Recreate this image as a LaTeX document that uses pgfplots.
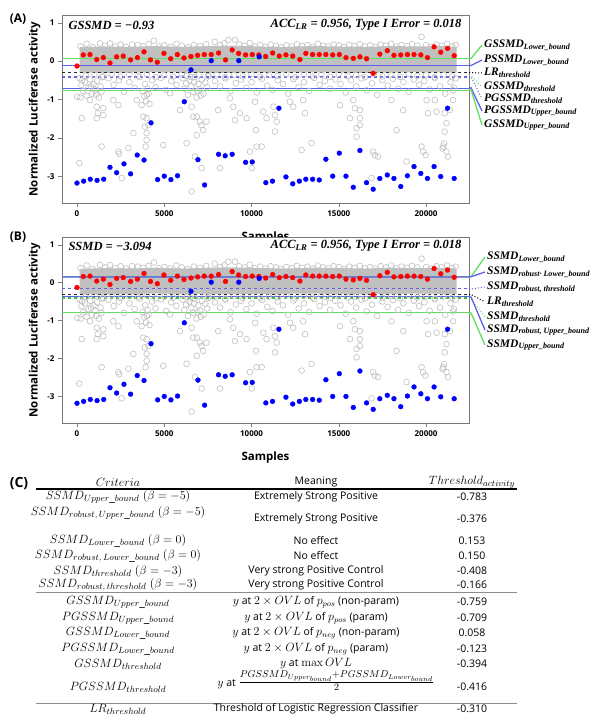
\documentclass[border=0pt]{standalone}
\usepackage{pgfplots}
\pgfplotsset{compat=1.18}
\usepackage{pgfplotstable}
\usepackage[no-math]{fontspec}
\setmainfont{Open Sans}
\newfontfamily\cambi{Liberation Serif}

\definecolor{lgreen}{RGB}{95,225,95}
\definecolor{lblue}{RGB}{95,95,235}
\definecolor{cgray}{RGB}{192,192,192}
\definecolor{framegray}{RGB}{120,120,120}
\definecolor{dgreen}{RGB}{60,190,60}
\definecolor{kdark}{RGB}{40,40,40}

\pgfplotstableread{
x y
200 0.38
550 0.45
900 0.36
1320 0.46
1600 0.40
1890 0.46
2200 0.38
2500 0.43
2800 0.37
3150 0.43
3490 0.42
3800 0.39
4100 0.44
4410 0.53
4700 0.38
5000 0.41
5350 0.37
5700 0.45
6000 0.40
6350 0.36
6700 0.42
7050 0.39
7400 0.44
7890 0.50
8200 0.41
8450 0.46
8670 0.55
9050 0.55
9300 0.43
9600 0.40
9900 0.47
10200 0.38
10500 0.42
10800 0.37
11100 0.43
11400 0.40
11700 0.36
12000 0.41
12300 0.38
12600 0.44
12900 0.39
13200 0.42
13500 0.37
13800 0.45
14100 0.40
14400 0.38
14700 0.43
15000 0.41
15300 0.36
15600 0.42
15900 0.39
16200 0.44
16500 0.38
16800 0.41
17100 0.37
17400 0.43
17700 0.40
18000 0.45
18300 0.38
18600 0.42
18900 0.39
19200 0.44
19500 0.40
19740 0.63
20000 0.41
20300 0.37
20600 0.43
20900 0.40
21200 0.45
21500 0.38
21700 0.42
150 -0.45
250 -0.62
350 -0.78
450 -0.55
550 -0.90
650 -0.70
750 -0.48
850 -0.85
950 -0.60
1050 -0.75
1150 -0.52
1250 -0.95
1350 -0.66
1450 -0.42
200 -0.95
500 -0.38
800 -0.66
1100 -0.88
1400 -0.80
300 -0.50
1800 -0.45
2100 -0.62
2400 -0.50
2700 -0.80
3000 -0.55
3300 -0.70
3600 -0.42
3900 -0.60
4100 -0.85
4300 -0.50
4500 -0.68
4800 -0.44
5100 -0.75
5400 -0.52
5700 -0.62
6050 -0.45
6150 -0.72
6250 -0.58
6350 -0.88
6450 -0.50
6550 -0.66
6650 -0.80
6750 -0.42
6850 -0.95
6950 -0.60
7050 -0.74
7150 -0.48
7250 -0.85
7350 -0.56
7450 -0.68
7550 -0.40
6300 -0.38
6700 -0.55
7100 -0.90
6900 -0.78
3750 -0.78
3850 -0.92
3950 -1.05
4050 -0.72
4150 -1.12
4000 -0.88
7900 -0.52
8200 -0.66
8500 -0.45
8800 -0.78
9100 -0.58
9400 -0.48
9700 -0.70
10000 -0.55
10300 -0.82
10600 -0.46
10900 -0.64
11200 -0.75
11500 -0.50
11800 -0.60
12100 -0.85
12400 -0.47
12700 -0.68
13000 -0.55
13300 -0.78
13600 -0.44
13900 -0.62
14200 -0.52
14500 -0.72
14800 -0.48
15100 -0.60
15400 -0.82
15700 -0.50
16000 -0.66
16300 -0.45
16600 -0.76
16900 -0.58
17200 -0.88
17500 -0.50
17800 -0.64
18100 -0.46
18400 -0.72
18700 -0.55
19000 -0.80
19300 -0.48
19600 -0.62
19900 -0.52
20200 -0.74
20500 -0.44
20800 -0.66
21100 -0.85
21400 -0.55
21600 -0.70
21700 -0.45
1000 -0.35
2000 -0.33
3000 -0.36
4000 -0.34
5000 -0.37
6000 -0.33
7000 -0.35
8000 -0.34
9000 -0.36
10000 -0.33
11000 -0.37
12000 -0.34
13000 -0.35
14000 -0.36
15000 -0.33
16000 -0.37
17000 -0.34
18000 -0.36
19000 -0.33
20000 -0.35
21000 -0.37
1500 -0.40
2500 -0.41
3500 -0.39
4500 -0.42
5500 -0.40
6500 -0.41
7500 -0.39
8500 -0.42
9500 -0.40
10500 -0.41
11500 -0.39
12500 -0.42
13500 -0.40
14500 -0.41
15500 -0.39
16500 -0.42
17500 -0.40
18500 -0.41
19500 -0.39
20500 -0.42
21500 -0.40
130 -2.66
270 -1.49
20 -0.93
745 -1.02
1130 -1.19
1190 -1.36
1510 -1.23
1130 -1.49
1510 -1.41
1410 -2.23
2080 -1.02
2370 -1.15
2370 -2.36
2420 -2.42
2560 -3.05
2940 -2.27
3230 -1.88
3420 -1.02
3700 -1.15
3800 -1.45
3890 -1.71
3990 -1.49
3990 -2.06
3930 -2.23
3990 -1.88
4090 -1.67
4940 -2.19
5330 -0.84
5900 -1.28
6570 -3.40
6280 -2.14
6570 -1.19
6660 -1.45
6760 -2.49
6860 -1.93
6860 -1.45
7040 -1.58
7130 -1.67
7230 -1.80
7140 -2.79
7420 -1.58
8090 -1.28
8190 -2.79
8760 -0.97
8950 -1.19
9050 -1.54
9340 -1.36
9720 -1.49
9910 -2.36
10010 -2.79
10200 -1.06
10250 -1.80
10290 -2.23
10580 -2.23
10670 -1.32
10860 -1.49
11250 -1.19
11340 -1.41
11440 -1.58
11340 -1.84
12200 -1.06
12390 -1.19
12960 -1.02
13060 -1.36
13440 -2.14
12870 -2.32
15060 -1.15
15640 -1.49
15830 -1.02
15920 -1.23
16210 -1.28
16210 -1.49
16020 -1.75
16210 -1.67
16020 -1.97
16970 -2.36
17060 -2.45
17250 -2.49
16880 -3.05
18020 -1.02
18310 -1.80
18690 -1.28
18880 -2.62
19740 -2.23
19830 -2.36
19970 -2.45
20030 -1.02
20120 -1.36
20500 -1.02
20600 -1.32
20980 -2.23
21030 -2.15
20950 -2.28
21070 -1.84
21170 -1.62
21070 -1.36
21360 -1.28
21170 -2.36
21260 -2.49
21550 -1.02
21550 -0.76
}\graydata

\pgfplotstableread{
x y
0 -0.13
360 0.16
745 0.17
1130 0.04
1510 0.09
1890 -0.05
2270 0.11
2650 0.13
3070 0.03
3460 0.09
3840 0.24
4210 0.03
4600 -0.03
4980 0.20
5370 0.06
5750 0.17
6130 0.08
6530 0.12
6910 0.15
7290 0.17
7690 0.17
8110 0.21
8510 0.03
8890 0.29
9260 0.20
9660 0.16
10040 0.17
10420 0.16
10810 0.12
11210 0.21
11590 0.13
11970 0.16
12360 0.13
12770 0.04
13110 0.20
13500 0.17
13880 0.17
14260 0.17
14650 0.16
15030 0.17
15410 0.09
15830 0.07
16210 0.11
16590 0.06
16970 -0.32
17350 0.18
17780 0.27
18160 0.15
18550 0.16
18930 0.17
19310 0.17
19700 0.16
20080 0.09
20460 0.37
20840 0.23
21230 0.33
21610 0.14
}\reddata

\pgfplotstableread{
x y
0 -3.18
380 -3.13
760 -3.08
1150 -3.11
1530 -3.08
1890 -2.77
2270 -2.91
2690 -2.68
3070 -2.94
3450 -2.45
3840 -2.58
4240 -1.61
4620 -3.09
5000 -3.00
5380 -3.09
5760 -2.99
6150 -1.06
6530 -0.23
6930 -2.57
7310 -3.23
7690 0.01
8110 -2.43
8490 -2.47
8890 -2.43
9270 0.01
9660 -2.64
10040 -2.63
10440 0.11
10820 -3.17
11200 -3.13
11570 -1.23
11970 -3.02
12360 -3.20
12740 -3.13
13110 -3.08
13500 -3.08
13880 -3.10
14260 -2.56
14650 -3.00
15030 -2.40
15410 -3.00
15830 -3.29
16210 -2.33
16590 -3.17
16970 -3.34
17350 -3.06
17780 -2.97
18160 -3.06
18550 -3.27
18930 -2.99
19310 -2.75
19700 -2.93
20080 -3.06
20460 -2.75
20840 -3.01
21230 -1.23
21610 -3.06
}\bluedata

\pgfplotstableread{
x y
150 0.36
1500 0.38
3000 0.37
4500 0.39
6000 0.37
7500 0.39
9000 0.40
10500 0.38
12000 0.37
13500 0.39
15000 0.38
16500 0.37
18000 0.39
19500 0.38
21000 0.39
21750 0.37
21750 -0.30
19500 -0.29
16500 -0.31
13500 -0.29
10500 -0.30
7500 -0.31
4500 -0.29
1500 -0.31
150 -0.30
}\banddata

\pgfplotsset{
  panel/.style={
    width=407pt, scale only axis,
    xmin=-860, xmax=22460, ymin=-3.7, ymax=1.2,
    xtick={0,5000,10000,15000,20000}, ytick={-3,-2,-1,0,1},
    scaled x ticks=false,
    tick align=outside, tick pos=left,
    major tick length=4pt,
    axis line style={draw=framegray, line width=0.8pt},
    ticklabel style={font=\bfseries\footnotesize},
    /pgf/number format/assume math mode=true,
    /pgf/number format/1000 sep={},
    ylabel={Normalized Luciferase activity},
    ylabel style={font=\bfseries\fontsize{11.5}{13}\selectfont},
    xlabel={Samples},
    xlabel style={font=\bfseries\fontsize{11.5}{13}\selectfont, yshift=-8pt},
  },
}

% bold italic serif label with subscript
\newcommand{\bi}[2]{{\fontsize{11.5}{13}\selectfont\cambi\bfseries\itshape #1\textsubscript{#2}}}

\begin{document}
\begin{tikzpicture}

% ---------- panel A ----------
\begin{axis}[panel, at={(62pt,-203pt)}, anchor=south west, height=188pt]
  \addplot[fill=cgray, draw=none] table[x=x, y=y] {\banddata};
  \addplot[only marks, mark=o, mark size=2.9pt, draw=cgray, line width=0.6pt] table[x=x, y=y] {\graydata};
  \addplot[lgreen, line width=1.3pt] coordinates {(-860,0.058) (22460,0.058)};
  \addplot[lblue, line width=1.3pt] coordinates {(-860,-0.123) (22460,-0.123)};
  \addplot[kdark, line width=1.1pt, dashed] coordinates {(-860,-0.310) (22460,-0.310)};
  \addplot[dgreen, line width=1.1pt, dashed] coordinates {(-860,-0.394) (22460,-0.394)};
  \addplot[lblue, line width=1.1pt, dashed] coordinates {(-860,-0.416) (22460,-0.416)};
  \addplot[lblue, line width=1.3pt] coordinates {(-860,-0.709) (22460,-0.709)};
  \addplot[lgreen, line width=1.3pt] coordinates {(-860,-0.759) (22460,-0.759)};
  \addplot[only marks, mark=*, mark size=2.4pt, red] table[x=x, y=y] {\reddata};
  \addplot[only marks, mark=*, mark size=2.4pt, blue] table[x=x, y=y] {\bluedata};
\end{axis}

% ---------- panel B ----------
\begin{axis}[panel, at={(62pt,-423pt)}, anchor=south west, height=186pt,
  axis background/.style={fill=white}]
  \addplot[fill=cgray, draw=none] table[x=x, y=y] {\banddata};
  \addplot[only marks, mark=o, mark size=2.9pt, draw=cgray, line width=0.6pt] table[x=x, y=y] {\graydata};
  \addplot[lgreen, line width=1.3pt] coordinates {(-860,0.153) (22460,0.153)};
  \addplot[lblue, line width=1.3pt, opacity=0.7] coordinates {(-860,0.150) (22460,0.150)};
  \addplot[lblue, line width=1.1pt, dashed] coordinates {(-860,-0.166) (22460,-0.166)};
  \addplot[kdark, line width=1.1pt, dashed] coordinates {(-860,-0.310) (22460,-0.310)};
  \addplot[lblue, line width=1.3pt] coordinates {(-860,-0.376) (22460,-0.376)};
  \addplot[dgreen, line width=1.1pt, dashed] coordinates {(-860,-0.408) (22460,-0.408)};
  \addplot[lgreen, line width=1.3pt] coordinates {(-860,-0.783) (22460,-0.783)};
  \addplot[only marks, mark=*, mark size=2.4pt, red] table[x=x, y=y] {\reddata};
  \addplot[only marks, mark=*, mark size=2.4pt, blue] table[x=x, y=y] {\bluedata};
\end{axis}

% panel letters and in-plot texts
\node[font=\bfseries\fontsize{12}{14}\selectfont] at (18pt,-19pt) {(A)};
\node[font=\bfseries\fontsize{12}{14}\selectfont] at (18pt,-237pt) {(B)};
\node[anchor=west, font=\fontsize{12.5}{14}\selectfont\cambi\bfseries\itshape] at (65pt,-25pt) {GSSMD = −0.93};
\node[anchor=east, font=\fontsize{12.5}{14}\selectfont\cambi\bfseries\itshape] at (465pt,-25pt) {ACC\textsubscript{LR} = 0.956, Type I Error = 0.018};
\node[anchor=west, font=\fontsize{12.5}{14}\selectfont\cambi\bfseries\itshape] at (65pt,-246pt) {SSMD = −3.094};
\node[anchor=east, font=\fontsize{12.5}{14}\selectfont\cambi\bfseries\itshape] at (465pt,-246pt) {ACC\textsubscript{LR} = 0.956, Type I Error = 0.018};

% legend connectors A
\draw[lgreen, line width=1.3pt] (469pt,-58.5pt) -- (471pt,-58.5pt) -- (482pt,-45pt);
\draw[lblue, line width=1.3pt] (469pt,-65.5pt) -- (471pt,-65.5pt) -- (482pt,-60pt);
\draw[black, line width=1pt, dotted] (469pt,-72.6pt) -- (471pt,-72.6pt) -- (482pt,-73pt);
\draw[lgreen, line width=1pt, dotted] (469pt,-75.8pt) -- (471pt,-75.8pt) -- (482pt,-87pt);
\draw[lblue, line width=1pt, dotted] (469pt,-76.6pt) -- (471pt,-76.6pt) -- (482pt,-99pt);
\draw[lblue, line width=1.3pt] (469pt,-87.8pt) -- (471pt,-87.8pt) -- (482pt,-111pt);
\draw[lgreen, line width=1.3pt] (469pt,-89.7pt) -- (471pt,-89.7pt) -- (482pt,-125pt);
\node[anchor=west, inner sep=0pt] at (484pt,-45pt) {\bi{GSSMD}{Lower\_bound}};
\node[anchor=west, inner sep=0pt] at (484pt,-60pt) {\bi{PSSMD}{Lower\_bound}};
\node[anchor=west, inner sep=0pt] at (484pt,-73pt) {\bi{LR}{threshold}};
\node[anchor=west, inner sep=0pt] at (484pt,-87pt) {\bi{GSSMD}{threshold}};
\node[anchor=west, inner sep=0pt] at (484pt,-99pt) {\bi{PGSSMD}{threshold}};
\node[anchor=west, inner sep=0pt] at (484pt,-111pt) {\bi{PGSSMD}{Upper\_bound}};
\node[anchor=west, inner sep=0pt] at (484pt,-125pt) {\bi{GSSMD}{Upper\_bound}};

% legend connectors B
\draw[lgreen, line width=1.3pt] (469pt,-276.7pt) -- (471pt,-276.7pt) -- (485pt,-257pt);
\draw[lblue, line width=1.3pt] (469pt,-276.8pt) -- (471pt,-276.8pt) -- (485pt,-272pt);
\draw[lblue, line width=1pt, dotted] (469pt,-289pt) -- (471pt,-289pt) -- (485pt,-287pt);
\draw[black, line width=1pt, dotted] (469pt,-294.5pt) -- (471pt,-294.5pt) -- (485pt,-302pt);
\draw[lgreen, line width=1pt, dotted] (469pt,-298.2pt) -- (471pt,-298.2pt) -- (485pt,-317pt);
\draw[lblue, line width=1.3pt] (469pt,-297pt) -- (471pt,-297pt) -- (485pt,-330pt);
\draw[lgreen, line width=1.3pt] (469pt,-312.9pt) -- (471pt,-312.9pt) -- (485pt,-345pt);
\node[anchor=west, inner sep=0pt] at (487pt,-257pt) {\bi{SSMD}{Lower\_bound}};
\node[anchor=west, inner sep=0pt] at (487pt,-272pt) {\bi{SSMD}{robust· Lower\_bound}};
\node[anchor=west, inner sep=0pt] at (487pt,-287pt) {\bi{SSMD}{robust, threshold}};
\node[anchor=west, inner sep=0pt] at (487pt,-302pt) {\bi{LR}{threshold}};
\node[anchor=west, inner sep=0pt] at (487pt,-317pt) {\bi{SSMD}{threshold}};
\node[anchor=west, inner sep=0pt] at (487pt,-330pt) {\bi{SSMD}{robust, Upper\_bound}};
\node[anchor=west, inner sep=0pt] at (487pt,-345pt) {\bi{SSMD}{Upper\_bound}};

% ---------- table C ----------
\node[font=\bfseries\fontsize{14}{16}\selectfont] at (19pt,-484pt) {(C)};
\draw[black, line width=1.4pt] (36pt,-489pt) -- (517pt,-489pt);
\draw[black!45, line width=0.6pt] (36pt,-592pt) -- (517pt,-592pt);
\draw[black!45, line width=0.6pt] (36pt,-703pt) -- (517pt,-703pt);
\begin{scope}[every node/.style={font=\fontsize{10.5}{12}\selectfont}]
\node[font=\fontsize{12.5}{14}\selectfont] at (118pt,-482pt) {$Criteria$};
\node at (316pt,-482pt) {Meaning};
\node[font=\fontsize{12.5}{14}\selectfont] at (472pt,-482pt) {$Threshold_{activity}$};

\node[font=\fontsize{12.5}{14}\selectfont] at (118pt,-497pt) {$SSMD_{Upper\_bound}\ (\beta=-5)$};
\node at (316pt,-497pt) {Extremely Strong Positive};
\node at (472pt,-497pt) {-0.783};
\node[font=\fontsize{12.5}{14}\selectfont] at (118pt,-513pt) {$SSMD_{robust,\,Upper\_bound}\ (\beta=-5)$};
\node at (316pt,-519pt) {Extremely Strong Positive};
\node at (472pt,-519pt) {-0.376};
\node[font=\fontsize{12.5}{14}\selectfont] at (118pt,-541pt) {$SSMD_{Lower\_bound}\ (\beta=0)$};
\node at (316pt,-541pt) {No effect};
\node at (472pt,-541pt) {0.153};
\node[font=\fontsize{12.5}{14}\selectfont] at (118pt,-556pt) {$SSMD_{robust,\,Lower\_bound}\ (\beta=0)$};
\node at (316pt,-556pt) {No effect};
\node at (472pt,-556pt) {0.150};
\node[font=\fontsize{12.5}{14}\selectfont] at (118pt,-571pt) {$SSMD_{threshold}\ (\beta=-3)$};
\node at (316pt,-571pt) {Very strong Positive Control};
\node at (472pt,-571pt) {-0.408};
\node[font=\fontsize{12.5}{14}\selectfont] at (118pt,-585pt) {$SSMD_{robust,\,threshold}\ (\beta=-3)$};
\node at (316pt,-585pt) {Very strong Positive Control};
\node at (472pt,-585pt) {-0.166};

\node[font=\fontsize{12.5}{14}\selectfont] at (118pt,-602pt) {$GSSMD_{Upper\_bound}$};
\node at (316pt,-602pt) {{\fontsize{12}{14}\selectfont$y$} at {\fontsize{12}{14}\selectfont$2\times OVL$} of {\fontsize{12}{14}\selectfont$p_{pos}$} (non-param)};
\node at (472pt,-602pt) {-0.759};
\node[font=\fontsize{12.5}{14}\selectfont] at (118pt,-618pt) {$PGSSMD_{Upper\_bound}$};
\node at (316pt,-618pt) {{\fontsize{12}{14}\selectfont$y$} at {\fontsize{12}{14}\selectfont$2\times OVL$} of {\fontsize{12}{14}\selectfont$p_{pos}$} (param)};
\node at (472pt,-618pt) {-0.709};
\node[font=\fontsize{12.5}{14}\selectfont] at (118pt,-633pt) {$GSSMD_{Lower\_bound}$};
\node at (316pt,-633pt) {{\fontsize{12}{14}\selectfont$y$} at {\fontsize{12}{14}\selectfont$2\times OVL$} of {\fontsize{12}{14}\selectfont$p_{neg}$} (non-param)};
\node at (472pt,-633pt) {0.058};
\node[font=\fontsize{12.5}{14}\selectfont] at (118pt,-649pt) {$PGSSMD_{Lower\_bound}$};
\node at (316pt,-649pt) {{\fontsize{12}{14}\selectfont$y$} at {\fontsize{12}{14}\selectfont$2\times OVL$} of {\fontsize{12}{14}\selectfont$p_{neg}$} (param)};
\node at (472pt,-649pt) {-0.123};
\node[font=\fontsize{12.5}{14}\selectfont] at (118pt,-664pt) {$GSSMD_{threshold}$};
\node at (316pt,-664pt) {{\fontsize{12}{14}\selectfont$y$} at {\fontsize{12}{14}\selectfont$\max OVL$}};
\node at (472pt,-664pt) {-0.394};
\node[font=\fontsize{12.5}{14}\selectfont] at (118pt,-687pt) {$PGSSMD_{threshold}$};
\node at (326pt,-681pt) {{\fontsize{12}{14}\selectfont$y$} at {\fontsize{14}{16}\selectfont$\frac{PGSSMD_{Upper_{bound}}+PGSSMD_{Lower_{bound}}}{2}$}};
\node at (472pt,-687pt) {-0.416};
\node[font=\fontsize{12.5}{14}\selectfont] at (118pt,-709pt) {$LR_{threshold}$};
\node at (316pt,-709pt) {Threshold of Logistic Regression Classifier};
\node at (472pt,-709pt) {-0.310};
\end{scope}

\pgfresetboundingbox
\useasboundingbox (0pt,0pt) rectangle (596pt,-715pt);
\end{tikzpicture}
\end{document}
